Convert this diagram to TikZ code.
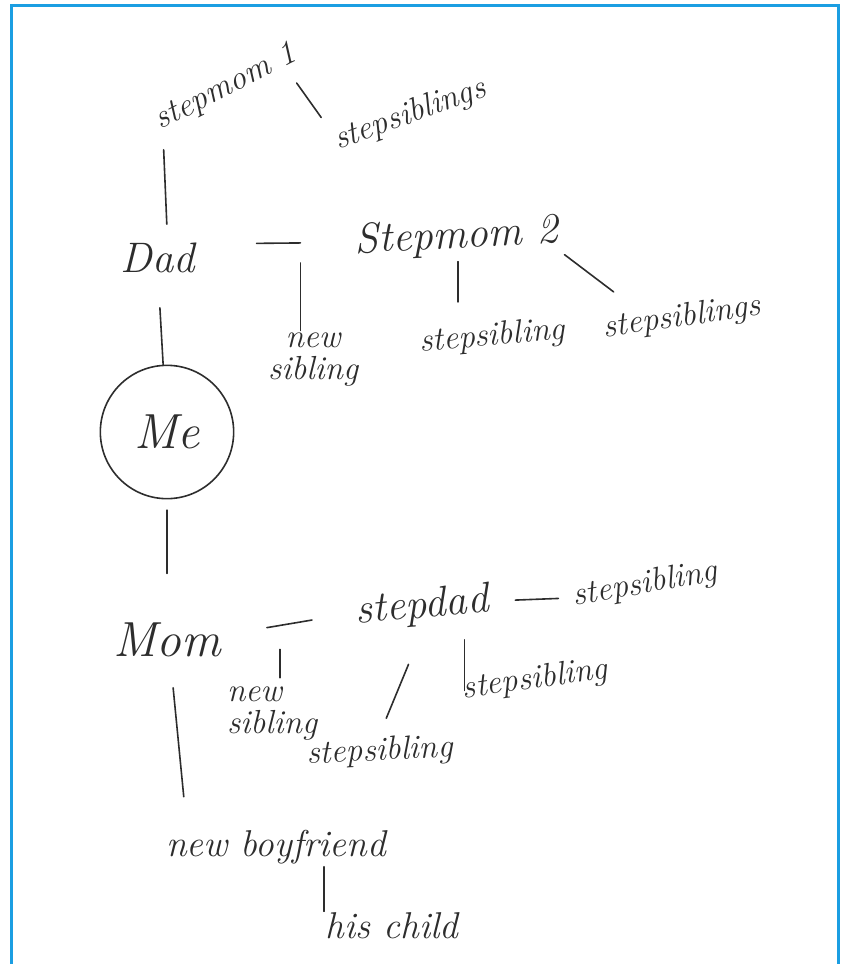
\documentclass[tikz,border=0pt]{standalone}
\usetikzlibrary{calc}

\definecolor{frameblue}{RGB}{27,158,226}
\definecolor{pencil}{RGB}{45,45,45}

\tikzset{every picture/.style={line width=0.75pt}}
\tikzset{
  person/.style={inner sep=0.75pt, text=pencil, font=\fontsize{32}{34}\selectfont\itshape},
  kin/.style={inner sep=0.75pt, text=pencil, align=center, font=\fontsize{25}{24}\selectfont\itshape},
  tie/.style={draw=pencil, line width=1.2pt, line cap=round},
}

\begin{document}
\begin{tikzpicture}[x=0.75pt,y=0.75pt,yscale=-1,xscale=1]
\useasboundingbox (0,0) rectangle (844,964);

%Frame
\draw [color=frameblue, line width=2.25pt] (11,964) -- (11,5) -- (838,5) -- (838,964);

% Text Node
\node [kin, rotate=27] (stepmomA) at (226,88) {stepmom 1};
% Text Node
\node [kin, rotate=20] (stepsibsA) at (410,115) {stepsiblings};
% Text Node
\node [person] (dad) at (158,258) {Dad};
% Text Node
\node [person, rotate=3] (stepmomB) at (457,237) {Stepmom 2};
% Text Node
\node [kin] (newsibA) at (313,360) {new\\sibling};
% Text Node
\node [kin, rotate=5] (stepsibB) at (492,337) {stepsibling};
% Text Node
\node [kin, rotate=8] (stepsibsC) at (682,318) {stepsiblings};
% Text Node
\node [person, draw=pencil, line width=1.2pt, circle, minimum size=100pt, font=\fontsize{37}{38}\selectfont\itshape] (me) at (167,432) {Me};
% Text Node
\node [person, font=\fontsize{37}{38}\selectfont\itshape] (mom) at (167,640) {Mom};
% Text Node
\node [person, rotate=5] (stepdad) at (422,607) {stepdad};
% Text Node
\node [kin, rotate=10] (stepsibD) at (645,585) {stepsibling};
% Text Node
\node [kin, align=left] (newsibB) at (272,714) {new\\sibling};
% Text Node
\node [kin, rotate=8] (stepsibE) at (535,680) {stepsibling};
% Text Node
\node [kin, rotate=3] (stepsibF) at (380,752) {stepsibling};
% Text Node
\node [person, font=\fontsize{28}{30}\selectfont\itshape] (boyfriend) at (276,847) {new boyfriend};
% Text Node
\node [person, font=\fontsize{28}{30}\selectfont\itshape] (child) at (392,926) {his child};

%Straight Lines (dad's side)
\draw [tie, shorten <=9pt, shorten >=13pt] (stepmomA.south west) -- (dad.60);
\draw [tie, shorten <=9pt, shorten >=9pt] (stepmomA.-14) -- (stepsibsA.north west);
\draw [tie, shorten <=45pt, shorten >=40pt] (dad.20) -- coordinate[pos=0.66] (dadjoin) (stepmomB.west);
\draw [tie, shorten <=15pt, shorten >=1pt] (dadjoin) -- (dadjoin |- newsibA.north);
\draw [tie, shorten <=3pt, shorten >=14pt] (stepmomB.south) -- (stepmomB.south |- stepsibB.north);
\draw [tie, shorten <=3pt, shorten >=20pt] (stepmomB.south east) -- (stepsibsC.160);
\draw [tie, shorten <=25pt] (dad.south) -- (me);
\draw [tie, shorten <=8pt, shorten >=36pt] (me) -- (mom);

%Straight Lines (mom's side)
\draw [tie, shorten <=34pt, shorten >=32pt] (mom.5) -- coordinate[pos=0.44] (momjoin) (stepdad.west);
\draw [tie, shorten <=18pt, shorten >=6pt] (momjoin) -- (momjoin |- newsibB.north);
\draw [tie, shorten <=19pt, shorten >=10pt] (stepdad.east) -- (stepsibD.west);
\coordinate (stepdadfoot) at ($(stepdad.south)!0.6!(stepdad.south east)$);
\draw [tie, shorten <=12pt] (stepdadfoot) -- (stepdadfoot |- stepsibE.west);
\draw [tie, shorten <=30pt, shorten >=14pt] (stepdad.south) -- (stepsibF.north);
\draw [tie, shorten <=22pt, shorten >=24pt] (mom.-80) -- ($(boyfriend.north west)!0.1!(boyfriend.north east)$);
\draw [tie, shorten <=1pt] (child.north west |- boyfriend.south) -- (child.north west);
\end{tikzpicture}
\end{document}
